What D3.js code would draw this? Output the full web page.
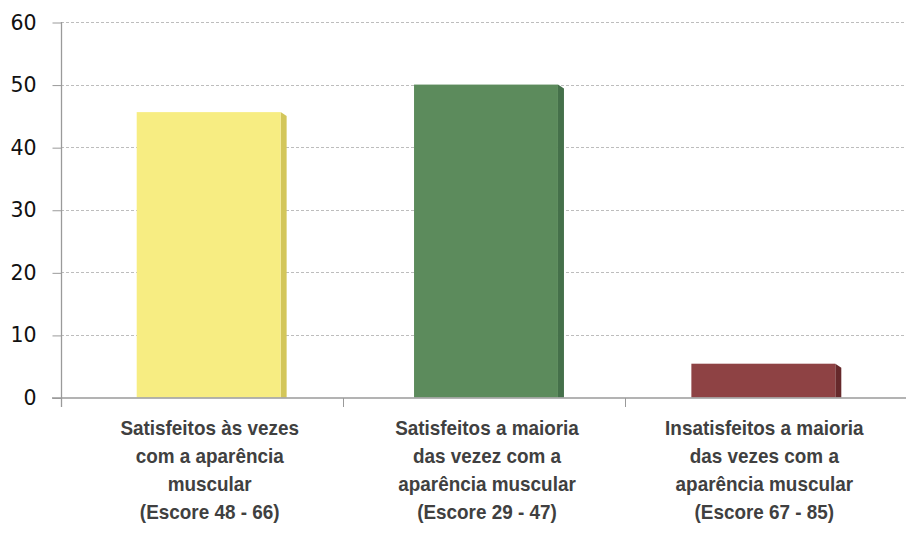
<!DOCTYPE html>
<html><head><meta charset="utf-8">
<script src="https://cdn.jsdelivr.net/npm/d3@7/dist/d3.min.js"></script>
<style>body{margin:0;background:#fff}svg{display:block}</style>
</head><body>
<svg id="c" width="906" height="535"></svg>
<script>
const categories = [
  ["Satisfeitos às vezes","com a aparência","muscular","(Escore 48 - 66)"],
  ["Satisfeitos a maioria","das vezez com a","aparência muscular","(Escore 29 - 47)"],
  ["Insatisfeitos a maioria","das vezes com a","aparência muscular","(Escore 67 - 85)"]
];
const values = [45.6, 50.0, 5.4];
const yTicks = [0, 10, 20, 30, 40, 50, 60];
const colors = ["#F7ED82", "#5C8B5C", "#8E4244"];
const sideColors = ["#D3C65A", "#45704A", "#66292B"];

const svg = d3.select("#c");
const axisX = 61, plotRight = 906;
const y = d3.scaleLinear().domain([0, 60]).range([397.5, 22]);
const x = d3.scaleBand().domain(d3.range(categories.length)).range([70, 902])
  .paddingInner(0.481).paddingOuter(0.2405);
const sep = d3.scaleLinear().domain([0, 3]).range([61, 907]);

// gridlines
svg.append("g").selectAll("line").data(yTicks.filter(d => d > 0)).join("line")
  .attr("x1", axisX).attr("x2", plotRight)
  .attr("y1", d => Math.round(y(d)) + 0.5).attr("y2", d => Math.round(y(d)) + 0.5)
  .attr("stroke", "#bdbdbd").attr("stroke-dasharray", "3,2").attr("stroke-width", 1);

// y axis
const yAxis = d3.axisLeft(y).tickValues(yTicks).tickSize(9).tickPadding(16).tickFormat(d3.format("d"));
const gy = svg.append("g").attr("transform", `translate(${axisX + 0.5},0.5)`).call(yAxis);
gy.select(".domain").remove();
gy.selectAll(".tick line").attr("stroke", "#9a9a9a");
gy.selectAll(".tick text").attr("font-family", "DejaVu Sans, sans-serif").attr("font-size", 20.5).attr("fill", "#111");
svg.append("line").attr("x1", axisX + 0.5).attr("x2", axisX + 0.5).attr("y1", y(60)).attr("y2", 407)
  .attr("stroke", "#9a9a9a").attr("stroke-width", 1.3);

// bars
const depth = 6, drop = 4;
const bars = svg.append("g");
values.forEach((v, i) => {
  const x0 = x(i), w = x.bandwidth(), yt = y(v), yb = y(0);
  bars.append("polygon")
    .attr("points", [[x0 + w, yt], [x0 + w + depth, yt + drop], [x0 + w + depth, yb], [x0 + w, yb]].map(p => p.join(",")).join(" "))
    .attr("fill", sideColors[i]);
  bars.append("rect").attr("x", x0).attr("y", yt).attr("width", w).attr("height", yb - yt).attr("fill", colors[i]);
});

// baseline
svg.append("line").attr("x1", 52).attr("x2", plotRight).attr("y1", 398).attr("y2", 398)
  .attr("stroke", "#9a9a9a").attr("stroke-width", 1.3);
// category separators
svg.append("g").selectAll("line").data([1, 2]).join("line")
  .attr("x1", d => Math.round(sep(d)) + 0.5).attr("x2", d => Math.round(sep(d)) + 0.5)
  .attr("y1", 398).attr("y2", 407).attr("stroke", "#9a9a9a");

// category labels
const lab = svg.append("g");
categories.forEach((lines, i) => {
  const cx = x(i) + x.bandwidth() / 2 + 1;
  const t = lab.append("text")
    .attr("transform", `translate(${cx},0) scale(0.9,1)`)
    .attr("text-anchor", "middle")
    .attr("font-family", "Liberation Sans, Arial, sans-serif")
    .attr("font-weight", "bold").attr("font-size", 21).attr("fill", "#404040");
  lines.forEach((l, j) => t.append("tspan").attr("x", 0).attr("y", 435 + j * 28).text(l));
});
</script>
</body></html>
